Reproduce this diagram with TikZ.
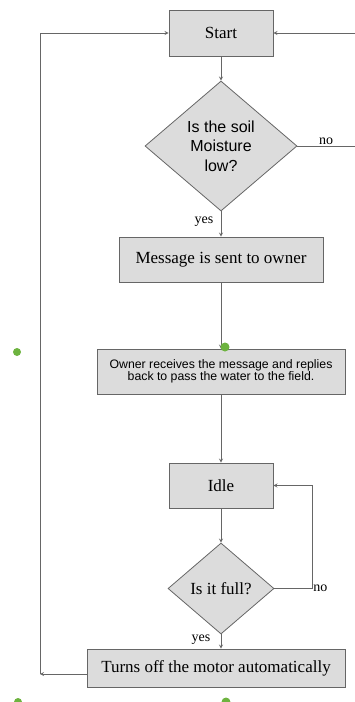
\documentclass[tikz,border=0pt]{standalone}
\usepackage{fontspec}
\setmainfont{Liberation Serif}
\setsansfont{Liberation Sans}
\usetikzlibrary{shapes.geometric}

\definecolor{boxfill}{HTML}{DCDCDC}
\definecolor{boxline}{HTML}{666666}
\definecolor{dotgreen}{HTML}{6DB33F}

\tikzset{
	stepbox/.style={draw=boxline, fill=boxfill, thick, inner sep=0pt, align=center, font=\fontsize{17}{19}\selectfont},
	askbox/.style={diamond, draw=boxline, fill=boxfill, thick, inner sep=0pt, align=center, font=\fontsize{17}{19}\selectfont},
	flow/.style={draw=boxline, thick, ->, >=stealth},
	lbl/.style={font=\fontsize{14}{16}\selectfont, inner sep=1pt}
}

\begin{document}
\begin{tikzpicture}[x=1pt, y=-1pt]
	\useasboundingbox (0,0) rectangle (354,702);
	
	% Draw the boxes and questions
	\node[stepbox, minimum width=104pt, minimum height=46pt] (start) at (221,33) {Start};
	\node[askbox, minimum width=152pt, minimum height=130pt, font=\sffamily\fontsize{16}{19.5}\selectfont] (soil) at (221,146) {Is the soil\\Moisture\\low?};
	\node[stepbox, minimum width=204pt, minimum height=45pt] (msg) at (221,259.5) {Message is sent to owner};
	\node[stepbox, minimum width=248pt, minimum height=45pt, font=\sffamily\fontsize{12.3}{12.5}\selectfont] (owner) at (221,371.5) {Owner receives the message and replies\\back to pass the water to the field.};
	\node[stepbox, minimum width=104pt, minimum height=45pt] (idle) at (221,485.5) {Idle};
	\node[askbox, minimum width=106pt, minimum height=91pt] (full) at (221,588.5) {Is it full?};
	\node[stepbox, minimum width=258pt, minimum height=38pt] (motor) at (216,668) {Turns off the motor automatically};
	
	% Corners of the loops
	\coordinate (soilno) at (355,146);
	\coordinate (fullno) at (312,588.5);
	\coordinate (back) at (40,674);
	
	% Draw the main flow
	\draw[flow] (start) -- (soil);
	\draw[flow] (soil) -- (msg);
	\draw[flow] (msg) -- (owner);
	\draw[flow] (owner) -- (idle);
	\draw[flow] (idle) -- (full);
	\draw[flow] (full) -- (motor.north -| full.south);
	
	% Draw the loops back
	\draw[flow] (soil.east) -- node[lbl, above, pos=0.5] {no} (soilno) |- (start.east);
	\draw[flow] (full.east) -- (fullno) node[lbl, right] {no} |- (idle.east);
	\draw[flow] (motor.west |- back) -- (back);
	\draw[flow] (back) |- (start.west);
	
	% Yes labels
	\node[lbl] (yes1) at (204,222) {yes};
	\node[lbl] (yes2) at (201,640) {yes};
	
	% Green dots
	\fill[dotgreen] (17,352) circle (4pt);
	\fill[dotgreen] (225,347) circle (4.5pt);
	\fill[dotgreen] (18,702) circle (4pt);
	\fill[dotgreen] (226,702) circle (4.5pt);
\end{tikzpicture}
\end{document}
